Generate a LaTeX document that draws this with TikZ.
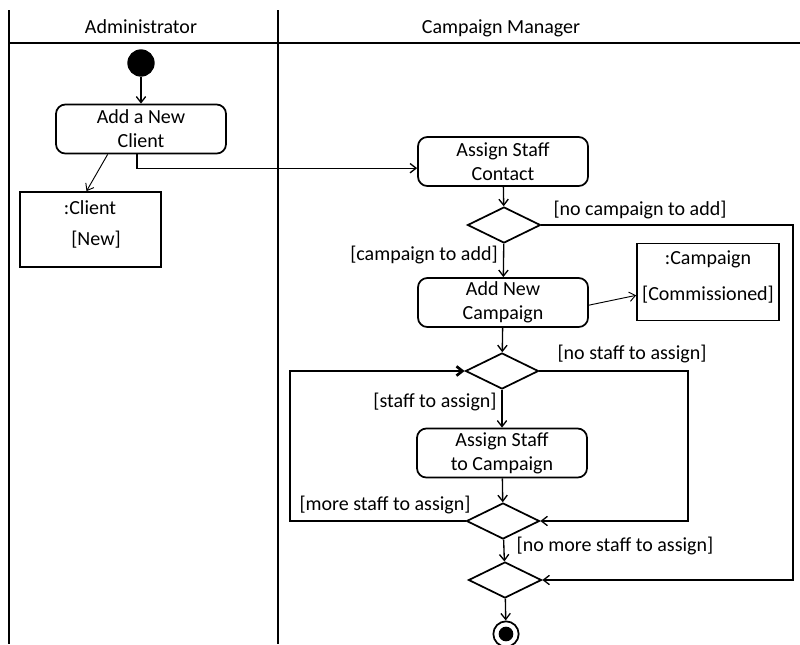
\documentclass[tikz,border=0pt]{standalone}
\usepackage{fontspec}
\setmainfont{Carlito}
\usetikzlibrary{arrows,arrows.meta,shapes.geometric,positioning}
\tikzset{
  activity/.style={draw,line width=1.3pt,rounded corners=7pt,minimum width=127.5pt,minimum height=36.75pt,align=center,inner sep=1pt},
  object/.style={draw,line width=1.3pt,inner sep=0pt},
  decision/.style={draw,diamond,line width=1.3pt,inner sep=0pt,minimum width=54.75pt,minimum height=27pt},
  guard/.style={inner sep=0pt},
  lane/.style={line width=2.2pt},
  flow/.style={-{Straight Barb[length=4.5pt,width=7pt]},line width=1pt}
}
\begin{document}
\begin{tikzpicture}[x=0.75pt,y=-0.75pt,font=\fontsize{15}{18}\selectfont]
  \useasboundingbox (0,0) rectangle (800,644);
  % swimlanes
  \draw [lane] (9,10) -- (9,644);
  \draw [lane] (278,10) -- (278,644);
  \draw [lane] (9,43) -- (800,43);
  \path (141,27) node (admin) {Administrator}
        (501,28) node (manager) {Campaign Manager};
  % nodes
  \path (141,63) node [circle,fill,minimum size=20.5pt,inner sep=0pt] (start) {}
        (141,129) node [activity] (addclient) {Add a New\\Client}
        (90.5,229.5) node [object,minimum width=105.75pt,minimum height=56.25pt] (client) {}
        (90,208) node (clientname) {:Client}
        (96,240) node (clientstate) {[New]}
        (503,161.5) node [activity] (contact) {Assign Staff\\Contact}
        (504,225) node [decision] (campq) {}
        (503,302.5) node [activity] (newcamp) {Add New\\Campaign}
        (708,282) node [object,minimum width=106.5pt,minimum height=57.75pt] (campaign) {}
        (708,259) node (campname) {:Campaign}
        (708,295) node (campstate) {[Commissioned]}
        (502,371) node [decision] (staffq) {}
        (502,453) node [activity] (staffcamp) {Assign Staff\\to Campaign}
        (503,521) node [decision] (moreq) {}
        (505,580) node [decision] (merge) {}
        (506,634) node [circle,draw,line width=1.3pt,minimum size=19pt,inner sep=0pt] (final) {};
  \fill (final) circle (5.5pt);
  % flows
  \draw [flow] (start) to (addclient);
  \draw [flow] ([xshift=-3pt]addclient.south) |- ([yshift=-5pt]contact.west);
  \draw [flow,line width=0.7pt] ([xshift=-25pt]addclient.south) to ([xshift=-3pt]client.north);
  \draw [flow] (contact) to (campq);
  \draw [flow] (campq.east) -- (793,225) |- (merge.east);
  \draw [flow] (campq) to (newcamp);
  \draw [flow,line width=0.7pt] ([yshift=-2pt]newcamp.east) to ([yshift=-10pt]campaign.west);
  \draw [flow] (newcamp) to (staffq);
  \draw [flow] (staffq.east) -- (688,371) |- (moreq.east);
  \draw [flow] (staffq) to (staffcamp);
  \draw [flow] (staffcamp) to (moreq);
  \draw [flow,line width=2pt] (moreq.west) -- (290,521) |- (staffq.west);
  \draw [flow] (moreq) to (merge);
  \draw [flow] (merge) to (final);
  % guards
  \path (640,210) node [guard] (nocamp) {[no campaign to add]}
        (424,255) node [guard] (camp) {[campaign to add]}
        (632,354) node [guard] (nostaff) {[no staff to assign]}
        (435,402) node [guard] (staff) {[staff to assign]}
        (385,505) node [guard] (morestaff) {[more staff to assign]}
        (615,546) node [guard] (nomore) {[no more staff to assign]};
\end{tikzpicture}
\end{document}
